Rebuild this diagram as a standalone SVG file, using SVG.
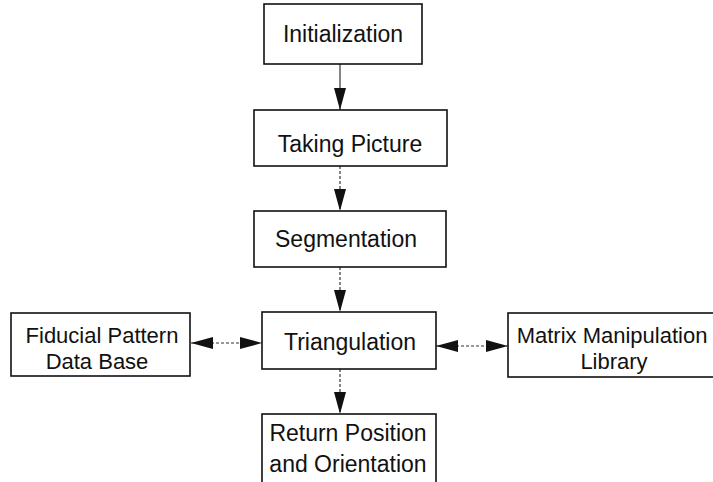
<svg xmlns="http://www.w3.org/2000/svg" width="713" height="482" viewBox="0 0 713 482">
<style>
.box{fill:#fff;stroke:#111;stroke-width:1.6}
.t{font-family:"Liberation Sans",Arial,Helvetica,sans-serif;font-size:23px;fill:#111;text-anchor:middle}
.s{font-size:22px}
.c{fill:none;stroke:#333;stroke-width:1.2}
.d{stroke-dasharray:3,2}
</style>
<defs>
<marker id="ah" viewBox="0 0 22 12" refX="22" refY="6" markerWidth="22" markerHeight="12" markerUnits="userSpaceOnUse" orient="auto-start-reverse">
<path d="M0,0 L22,6 L0,12 Z" fill="#111"/>
</marker>
</defs>
<rect width="713" height="482" fill="#fff"/>
<g id="connectors">
<line class="c" x1="340" y1="64" x2="340" y2="110" marker-end="url(#ah)"/>
<line class="c d" x1="340" y1="166" x2="340" y2="211" marker-end="url(#ah)"/>
<line class="c d" x1="340" y1="267" x2="340" y2="312" marker-end="url(#ah)"/>
<line class="c d" x1="340" y1="369" x2="340" y2="414" marker-end="url(#ah)"/>
<line class="c d" x1="191" y1="343" x2="262" y2="343" marker-start="url(#ah)" marker-end="url(#ah)"/>
<line class="c d" x1="436" y1="346" x2="508" y2="346" marker-start="url(#ah)" marker-end="url(#ah)"/>
</g>
<g id="initialization">
<rect class="box" x="264" y="4" width="158" height="60"/>
<text class="t" x="343" y="42">Initialization</text>
</g>
<g id="taking-picture">
<rect class="box" x="254" y="110" width="193" height="56"/>
<text class="t" x="350" y="152">Taking Picture</text>
</g>
<g id="segmentation">
<rect class="box" x="254" y="211" width="192" height="56"/>
<text class="t" x="346" y="247">Segmentation</text>
</g>
<g id="triangulation">
<rect class="box" x="262" y="312" width="174" height="57"/>
<text class="t" x="350" y="350">Triangulation</text>
</g>
<g id="return-position">
<rect class="box" x="262" y="414" width="174" height="75"/>
<text class="t" x="348" y="441">Return Position</text>
<text class="t" x="348" y="472">and Orientation</text>
</g>
<g id="fiducial">
<rect class="box" x="11" y="313" width="179" height="63"/>
<text class="t s" x="102" y="343">Fiducial Pattern</text>
<text class="t s" x="97" y="369">Data Base</text>
</g>
<g id="matrix">
<rect class="box" x="508" y="313" width="220" height="64"/>
<text class="t s" x="612" y="343">Matrix Manipulation</text>
<text class="t s" x="614" y="369">Library</text>
</g>
</svg>
